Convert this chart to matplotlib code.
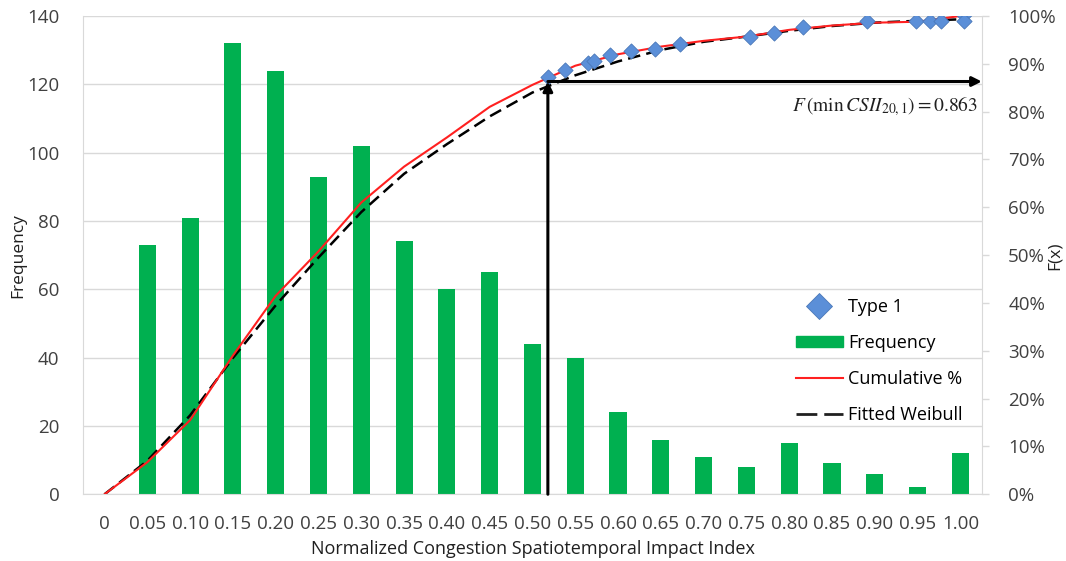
import matplotlib.pyplot as plt
from matplotlib.lines import Line2D
from matplotlib.patches import Patch

plt.rcParams['font.family'] = ['Open Sans', 'DejaVu Sans']
plt.rcParams['mathtext.fontset'] = 'stix'

# category axis (CSII bins)
bins = ["0", "0.05", "0.10", "0.15", "0.20", "0.25", "0.30", "0.35", "0.40", "0.45",
        "0.50", "0.55", "0.60", "0.65", "0.70", "0.75", "0.80", "0.85", "0.90", "0.95", "1.00"]
freq = [0, 73, 81, 132, 124, 93, 102, 74, 60, 65, 44, 40, 24, 16, 11, 8, 15, 9, 6, 2, 12]

# cumulative % and fitted Weibull, read at each bin
cum_pct = [0, 0.067, 0.155, 0.29, 0.415, 0.508, 0.61, 0.685, 0.746, 0.81, 0.856,
           0.896, 0.92, 0.936, 0.948, 0.957, 0.971, 0.98, 0.986, 0.988, 1.0]
weibull = [0, 0.07, 0.165, 0.285, 0.395, 0.495, 0.59, 0.67, 0.732, 0.79, 0.84,
           0.876, 0.905, 0.929, 0.946, 0.957, 0.969, 0.979, 0.986, 0.99, 0.993]

# Type 1 points (CSII value, F)
type1_x = [0.518, 0.538, 0.565, 0.572, 0.591, 0.615, 0.643, 0.672, 0.754, 0.782,
           0.816, 0.891, 0.948, 0.964, 0.977, 1.004, 1.004]
type1_y = [0.873, 0.888, 0.902, 0.906, 0.918, 0.927, 0.932, 0.941, 0.956, 0.964,
           0.977, 0.989, 0.990, 0.990, 0.990, 1.002, 0.990]

csii_min = 0.518
f_min = 0.863

green = "#00B050"
blue = "#5B8FD8"
grid_c = "#D9D9D9"
txt_c = "#404040"

fig, ax = plt.subplots(figsize=(10.66, 5.61), dpi=100)
fig.subplots_adjust(left=0.078, right=0.921, bottom=0.119, top=0.9715)

pos = list(range(len(bins)))
ax.bar(pos, freq, width=0.4, color=green, zorder=2)
ax.set_xlim(-0.5, 20.5)
ax.set_ylim(0, 140)
ax.set_yticks(range(0, 141, 20))
ax.set_xticks(pos)
ax.set_xticklabels(bins)
ax.yaxis.grid(True, color=grid_c, lw=1, zorder=0)
ax.set_axisbelow(True)
ax.tick_params(axis='both', length=0, labelsize=13.5, colors=txt_c)
ax.tick_params(axis='y', pad=17)
ax.tick_params(axis='x', pad=15)
for s in ['top', 'right']:
    ax.spines[s].set_visible(False)
for s in ['left', 'bottom']:
    ax.spines[s].set_color(grid_c)
ax.set_xlabel("Normalized Congestion Spatiotemporal Impact Index", fontsize=13,
              color="#202020", labelpad=5)

ax2 = ax.twinx()
ax2.set_ylim(0, 1)
ax2.set_yticks([i / 10 for i in range(11)])
ax2.set_yticklabels(["%d%%" % (i * 10) for i in range(11)])
ax2.tick_params(axis='y', length=5, width=1, labelsize=13.5, pad=14)
ax2.tick_params(axis='y', colors=grid_c, labelcolor=txt_c)
for s in ['top', 'left', 'bottom']:
    ax2.spines[s].set_visible(False)
ax2.spines['right'].set_color(grid_c)

# axis titles placed by hand so they stay inside the canvas
fig.text(18 / 1066, 0.545, "Frequency", rotation=90, ha="center", va="center",
         fontsize=12.5, color="#202020")
fig.text(1055 / 1066, 0.545, "F(x)", rotation=90, ha="center", va="center",
         fontsize=12.5, color="#202020")

ax2.plot(pos, weibull, color="black", lw=1.8, ls=(0, (5, 2.5)), zorder=3)
ax2.plot(pos, cum_pct, color="#FF2020", lw=1.5, zorder=4)
ax2.scatter([v * 20 for v in type1_x], type1_y, marker="D", s=60, color=blue,
            edgecolor="#4A78B8", linewidth=0.6, zorder=5)

# arrows
xa = csii_min * 20
ax2.annotate("", xy=(xa, f_min), xytext=(xa, 0),
             arrowprops=dict(arrowstyle="-|>", color="black", lw=2.2,
                             mutation_scale=14, shrinkA=0, shrinkB=0), zorder=6)
ax2.annotate("", xy=(20.5, f_min), xytext=(xa, f_min),
             arrowprops=dict(arrowstyle="-|>", color="black", lw=2.2,
                             mutation_scale=14, shrinkA=0, shrinkB=0), zorder=6)
ax2.text(20.4, 0.812, r"$F\,(\min\,CSII_{20,1}) = 0.863$", ha="right", va="center",
         fontsize=14, color="#202020")

handles = [
    Line2D([], [], marker="D", ls="none", markersize=13, color=blue,
           markeredgecolor="#4A78B8", markeredgewidth=0.6),
    Patch(color=green),
    Line2D([], [], color="#FF2020", lw=1.5),
    Line2D([], [], color="#202020", lw=2, ls=(0, (7.5, 2.5))),
]
labels = ["Type 1", "Frequency", "Cumulative %", "Fitted Weibull"]
ax2.legend(handles, labels, loc="upper left", bbox_to_anchor=(0.775, 0.445),
           frameon=False, fontsize=13, labelspacing=1.0, handlelength=2.6,
           handletextpad=0.3, handleheight=0.6)

fig.savefig("out.png")
